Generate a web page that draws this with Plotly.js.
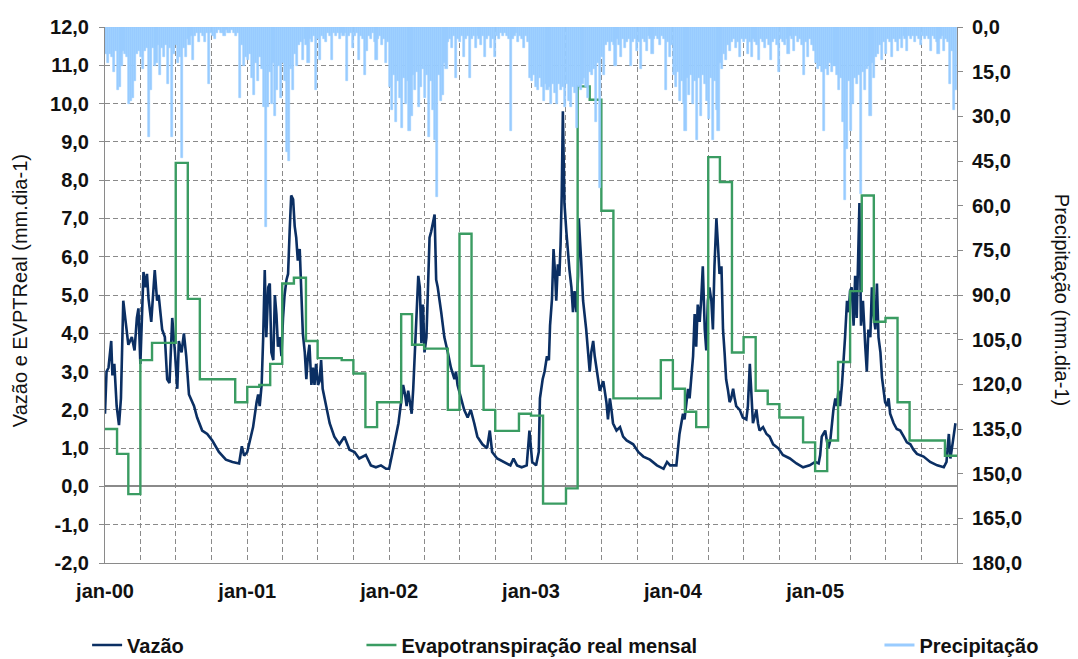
<!DOCTYPE html>
<html><head><meta charset="utf-8">
<script src="https://cdn.plot.ly/plotly-3.0.1.min.js"></script>
<style>html,body{margin:0;padding:0;background:#fff}#chart{width:1078px;height:659px}</style>
</head><body><div id="chart"></div>
<script>
// ---------- DATA ----------
const years = [2000, 2001, 2002, 2003, 2004, 2005];
const xTickVals = ['2000-01-01','2001-01-01','2002-01-01','2003-01-01','2004-01-01','2005-01-01'];
const xTickText = ['jan-00','jan-01','jan-02','jan-03','jan-04','jan-05'];
const yLeftTicks = [-2,-1,0,1,2,3,4,5,6,7,8,9,10,11,12];
const yRightTicks = [0,15,30,45,60,75,90,105,120,135,150,165,180];

// Vazão (mm.dia-1): day-of-year and value, one pair of arrays per year
const flowDoy2000 = [0,4,9,16,19,24,30,36,41,47,52,60,69,76,82,86,91,99,104,108,112,119,128,134,138,147,154,160,166,173,180,186,190,197,203,209,216,229,237,250,263,276,293,311,328,345,352,358];
const flowVal2000 = [1.9,3.0,3.1,3.8,2.9,3.2,2.1,1.6,2.3,4.85,4.4,3.7,3.9,3.55,4.4,4.65,3.2,5.6,5.2,5.55,4.9,4.3,5.65,4.85,5.0,4.1,3.9,2.8,2.7,4.4,3.5,2.55,3.8,3.5,4.0,3.4,2.4,2.1,1.8,1.46,1.37,1.2,0.9,0.7,0.64,0.6,1.05,0.8];
const flowDoy2001 = [0,7,15,24,28,32,37,41,45,49,54,58,62,67,71,75,79,84,88,92,96,101,105,109,113,118,122,126,130,135,139,143,148,152,156,160,165,169,173,177,182,186,190,194,203,212,224,237,250,263,276,288,305,318,331,344,357];
const flowVal2001 = [0.9,1.2,1.55,2.2,2.4,2.1,2.65,3.9,5.65,3.9,5.2,5.3,3.5,3.3,5.0,4.5,3.65,3.9,3.4,4.4,5.0,5.4,5.55,6.65,7.6,7.5,6.8,6.5,5.9,6.2,5.2,4.0,3.5,2.8,3.4,3.7,2.65,3.1,2.65,3.2,2.65,2.75,3.3,2.55,2.1,1.65,1.3,1.1,1.3,0.96,0.9,0.73,0.82,0.55,0.5,0.55,0.46];
const flowDoy2002 = [0,7,15,24,32,36,41,45,49,53,58,62,66,70,75,79,83,87,91,96,100,104,108,113,117,121,125,134,142,151,159,168,172,176,185,193,202,210,219,227,240,252,259,265,278,295,312,320,329,341,354,361];
const flowVal2002 = [0.46,0.8,1.2,1.65,2.3,2.65,2.4,2.1,2.5,2.2,1.9,2.55,3.5,4.1,5.5,5.2,3.75,4.75,3.5,3.9,5.55,6.5,6.65,6.95,7.1,5.4,5.2,4.55,3.9,3.5,3.1,2.8,3.0,2.65,2.3,2.0,1.8,2.0,1.65,1.3,1.1,1.0,1.46,0.9,0.73,0.64,0.55,0.73,0.55,0.5,0.55,1.46];
const flowDoy2003 = [3,13,20,23,30,35,41,46,49,54,58,62,65,69,73,76,79,82,86,91,95,99,104,108,112,117,121,123,129,134,142,147,151,155,160,164,168,173,177,186,190,194,198,203,207,211,220,229,237,246,263,276,289,306,324,341,350,358];
const flowVal2003 = [0.64,0.55,0.9,2.3,2.8,3.0,3.4,3.3,4.2,4.9,6.2,5.55,4.85,5.8,5.5,6.3,7.6,9.8,7.4,6.65,6.1,5.65,5.2,4.55,5.1,4.55,5.5,7.0,5.9,4.85,4.1,3.4,3.0,3.5,3.8,3.4,3.1,2.75,2.5,2.75,2.5,2.2,1.75,2.3,2.0,1.65,1.46,1.55,1.3,1.2,1.1,0.9,0.78,0.7,0.55,0.46,0.64,0.55];
const flowDoy2004 = [0,9,17,21,26,30,34,39,43,47,52,56,60,64,69,73,77,82,86,90,94,99,103,107,112,116,120,125,129,133,137,142,146,150,155,159,163,172,180,189,193,198,202,206,210,215,219,223,232,241,249,258,271,283,301,318,335,352];
const flowVal2004 = [0.55,0.55,1.37,1.65,1.9,1.75,2.1,2.55,2.3,2.9,3.4,4.5,3.65,4.75,4.3,4.9,5.75,4.1,3.55,4.85,5.2,4.85,4.1,5.75,7.0,6.3,5.55,5.75,4.1,3.5,2.8,2.5,2.2,2.3,2.55,2.3,2.1,2.0,1.8,1.75,2.1,3.2,2.55,1.65,1.8,2.0,1.65,1.46,1.55,1.37,1.3,1.1,1.0,0.82,0.73,0.6,0.5,0.55];
const flowDoy2005 = [0,9,13,17,21,26,30,34,39,43,47,52,56,60,64,69,73,77,82,86,90,94,99,103,107,112,114,118,123,129,133,137,142,146,150,155,159,163,168,172,176,180,185,189,193,202,210,219,228,236,245,253,262,279,296,314,331,338,344,348,352,356,361];
const flowVal2005 = [0.64,0.6,0.82,1.3,1.37,1.46,1.2,1.0,1.2,1.65,2.0,2.3,2.1,2.5,2.1,2.65,3.2,3.9,4.85,4.55,5.1,5.2,4.2,5.5,4.4,6.3,7.4,4.2,4.85,3.65,3.0,4.1,3.9,5.2,4.5,4.1,5.3,3.9,3.5,2.85,2.5,2.2,2.1,2.3,1.9,1.65,1.5,1.46,1.3,1.15,1.1,0.96,0.85,0.78,0.64,0.55,0.5,0.64,1.37,0.73,1.0,1.3,1.65];

// Evapotranspiração real mensal (mm.dia-1), Jan..Dec
const et2000 = [1.5,0.85,-0.2,3.3,3.75,3.75,8.45,4.9,2.8,2.8,2.8,2.2];
const et2001 = [2.6,2.65,3.2,5.3,5.45,3.8,3.35,3.35,3.3,2.95,1.55,2.2];
const et2002 = [2.2,4.5,3.7,3.6,3.6,2.0,6.6,3.15,2.0,1.45,1.45,1.9];
const et2003 = [1.85,-0.45,-0.45,-0.05,10.45,10.1,7.2,2.3,2.3,2.3,2.3,3.3];
const et2004 = [2.55,1.95,1.55,8.6,7.95,3.5,3.9,2.5,2.15,1.8,1.8,1.15];
const et2005 = [0.4,1.2,3.25,5.1,7.6,4.3,4.4,2.2,1.2,1.2,1.2,0.8];

// Precipitação (mm.dia-1): 5-day slots per year (73 per year)
const precip2000 = [9,12,9,10,15,8,21,20,13,8,9,10,26,25,24,18,9,8,10,14,8,7,37,21,7,13,12,6,16,7,10,6,19,7,37,9,6,12,10,44,7,10,4,6,3,11,3,2,5,2,3,5,2,19,2,3,4,2,1,2,2,3,1,2,2,1,2,3,2,24,6,13,10];
const precip2001 = [11,9,17,23,12,18,10,14,27,67,27,15,26,12,30,21,13,24,12,18,42,45,14,21,9,13,6,5,11,4,6,12,4,5,3,21,4,11,3,4,5,2,3,11,2,3,2,4,2,3,2,18,3,2,7,3,2,11,3,4,16,8,3,4,2,5,11,4,3,6,4,12,5];
const precip2002 = [20,28,16,32,18,24,34,17,26,18,35,30,16,21,15,27,20,14,24,16,37,18,28,38,57,16,25,23,12,14,5,4,7,3,17,4,5,3,10,4,3,17,4,3,7,3,4,6,3,10,4,3,7,4,10,3,4,2,3,2,3,4,35,4,3,2,5,3,4,7,3,5,17];
const precip2003 = [18,16,20,21,17,20,25,19,21,20,26,19,22,26,19,21,20,27,19,25,27,20,22,34,20,21,19,17,20,24,15,16,14,32,12,54,10,16,6,5,8,5,6,13,4,6,10,4,7,5,4,13,5,4,8,5,14,4,5,8,3,4,9,4,3,4,6,3,4,21,5,10,6];
const precip2004 = [16,20,15,25,18,26,35,17,23,16,26,18,38,17,30,16,19,25,31,17,38,18,28,35,12,14,9,11,6,8,5,4,7,5,10,4,5,4,9,5,10,4,5,6,11,4,5,7,4,6,11,5,4,6,15,4,5,6,4,9,3,4,8,3,5,4,6,16,5,10,4,6,8];
const precip2005 = [12,14,13,15,35,14,16,12,15,13,13,16,21,17,32,58,41,18,35,26,17,19,16,56,15,21,14,13,30,12,17,10,9,6,11,5,9,4,5,10,4,5,8,4,7,3,4,8,3,4,3,5,3,4,6,3,4,3,4,8,3,4,5,9,4,3,8,4,5,19,8,28,21];

// ---------- BUILD ----------
const DAY = 86400000;
function dstr(ms){ return new Date(ms).toISOString().replace('T',' ').slice(0,16); }
function ptBR(v){ return v.toFixed(1).replace('.', ','); }

const flowDoy = [flowDoy2000, flowDoy2001, flowDoy2002, flowDoy2003, flowDoy2004, flowDoy2005];
const flowVal = [flowVal2000, flowVal2001, flowVal2002, flowVal2003, flowVal2004, flowVal2005];
const etAll = [et2000, et2001, et2002, et2003, et2004, et2005];
const precipAll = [precip2000, precip2001, precip2002, precip2003, precip2004, precip2005];

const fx = [], fy = [], ex = [], ey = [], px = [], py = [];
years.forEach((yr, k) => {
  const t0 = Date.UTC(yr, 0, 1);
  flowDoy[k].forEach((d, i) => { fx.push(dstr(t0 + d*DAY)); fy.push(flowVal[k][i]); });
  etAll[k].forEach((v, m) => { ex.push(dstr(Date.UTC(yr, m, 1))); ey.push(v); });
  precipAll[k].forEach((v, i) => { px.push(dstr(t0 + (i*5 + 2.5)*DAY)); py.push(v); });
});
// close the last monthly step at the end of the axis
ex.push(dstr(Date.UTC(2006, 0, 1))); ey.push(et2005[et2005.length - 1]);

const FONT = 'Liberation Sans, Arial, sans-serif';
const GRID = '#8a8a8a';
const PCOL = '#99ccff';

const traces = [
  { type:'scatter', mode:'lines', name:'Vazão', x:fx, y:fy, yaxis:'y',
    line:{color:'#0b2f63', width:2.6}, legend:'legend' },
  { type:'scatter', mode:'lines', name:'Evapotranspiração real mensal', x:ex, y:ey, yaxis:'y',
    line:{color:'#3a9c62', width:2.4, shape:'hv'}, legend:'legend2' },
  { type:'bar', name:'Precipitação', x:px, y:py, yaxis:'y2', width:5.4*DAY,
    marker:{color:PCOL, line:{width:0.6, color:PCOL}}, showlegend:false, hoverinfo:'x+y' },
  { type:'scatter', mode:'lines', name:'Precipitação', x:[null], y:[null], yaxis:'y2',
    line:{color:PCOL, width:3}, legend:'legend3' }
];

const legFont = {family: FONT, size: 20, color:'#111', weight:'bold'};
const tickFont = {family: FONT, size: 20, color:'#111', weight:'bold'};
const legY = -0.153;

const layout = {
  width:1078, height:659,
  margin:{l:105, r:121, t:27, b:96, autoexpand:false},
  paper_bgcolor:'#fff', plot_bgcolor:'#fff',
  font:{family:FONT, color:'#111'},
  bargap:0,
  xaxis:{
    type:'date', range:['2000-01-01','2006-01-01'], automargin:false,
    tickmode:'array', tickvals:xTickVals, ticktext:xTickText,
    tickfont:tickFont, ticks:'', ticklabelstandoff:10,
    showline:true, linecolor:GRID, linewidth:1,
    showgrid:true, gridcolor:GRID, griddash:'5px,3px', gridwidth:1,
    minor:{tick0:'2000-01-01', dtick:'M3', showgrid:true, gridcolor:GRID, griddash:'5px,3px', gridwidth:1},
    zeroline:false
  },
  yaxis:{
    range:[-2,12], automargin:false, tickmode:'array', tickvals:yLeftTicks, ticktext:yLeftTicks.map(ptBR),
    tickfont:tickFont, ticks:'outside', ticklen:5, tickcolor:GRID, ticklabelstandoff:6,
    showline:true, linecolor:GRID, linewidth:1,
    showgrid:true, gridcolor:GRID, griddash:'5px,3px', gridwidth:1,
    zeroline:true, zerolinecolor:GRID, zerolinewidth:1.5
  },
  yaxis2:{
    overlaying:'y', side:'right', range:[180,0], automargin:false,
    tickmode:'array', tickvals:yRightTicks, ticktext:yRightTicks.map(ptBR),
    tickfont:tickFont, ticks:'outside', ticklen:5, tickcolor:GRID, ticklabelstandoff:5,
    showline:true, linecolor:GRID, linewidth:1, showgrid:false, zeroline:false
  },
  legend:{x:-0.021, y:legY, xanchor:'left', yanchor:'middle', orientation:'h', font:legFont, bgcolor:'rgba(0,0,0,0)'},
  legend2:{x:0.301, y:legY, xanchor:'left', yanchor:'middle', orientation:'h', font:legFont, bgcolor:'rgba(0,0,0,0)'},
  legend3:{x:0.909, y:legY, xanchor:'left', yanchor:'middle', orientation:'h', font:legFont, bgcolor:'rgba(0,0,0,0)'},
  annotations:[
    {text:'Vazão e EVPTReal (mm.dia-1)', xref:'paper', yref:'paper', x:-0.0998, y:0.509,
     xanchor:'center', yanchor:'middle', textangle:-90, showarrow:false,
     font:{family:FONT, size:20, color:'#111'}},
    {text:'Precipitação (mm.dia-1)', xref:'paper', yref:'paper', x:1.1232, y:0.491,
     xanchor:'center', yanchor:'middle', textangle:90, showarrow:false,
     font:{family:FONT, size:20, color:'#111'}}
  ]
};

Plotly.newPlot('chart', traces, layout, {displayModeBar:false, responsive:false});
</script></body></html>
